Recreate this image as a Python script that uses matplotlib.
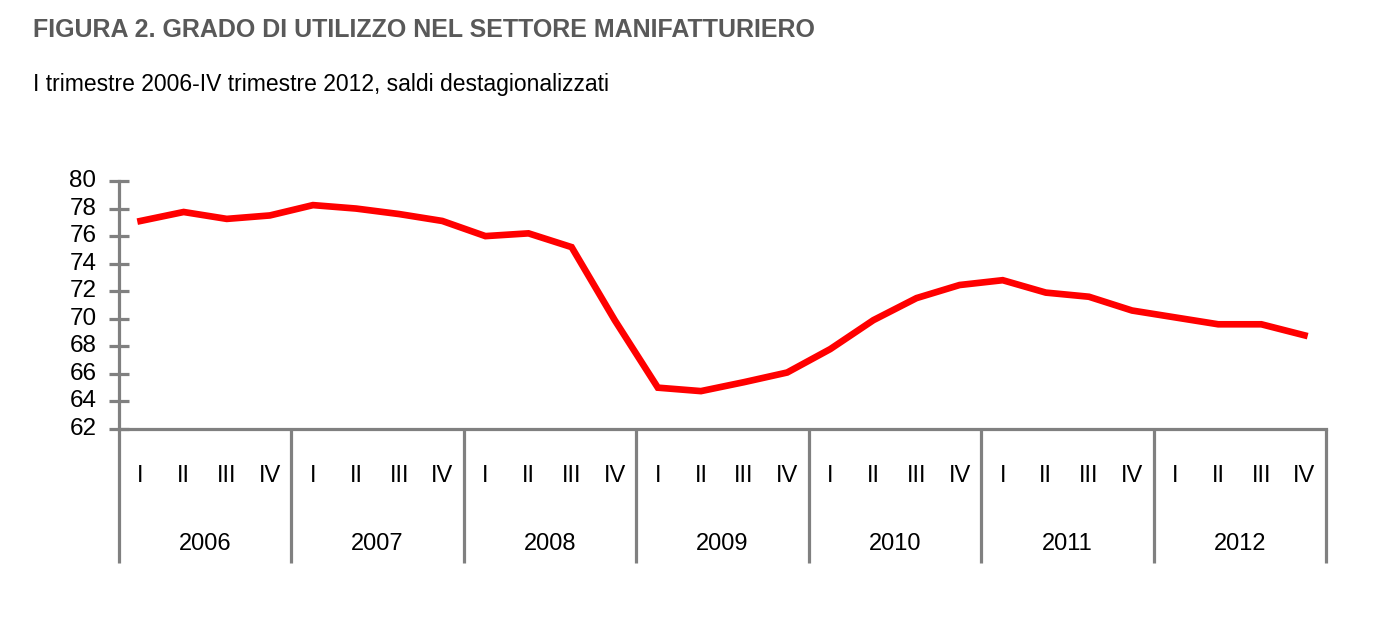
import matplotlib
matplotlib.use("Agg")
import matplotlib.pyplot as plt
from matplotlib import font_manager

# Chart data: capacity utilisation, manufacturing, quarterly 2006-2012
years = ["2006", "2007", "2008", "2009", "2010", "2011", "2012"]
quarters = ["I", "II", "III", "IV"]
values = [
    77.1, 77.75, 77.25, 77.5,   # 2006
    78.25, 78.0, 77.6, 77.1,    # 2007
    76.0, 76.2, 75.2, 69.9,     # 2008
    65.0, 64.75, 65.4, 66.1,    # 2009
    67.8, 69.9, 71.5, 72.45,    # 2010
    72.8, 71.9, 71.6, 70.6,     # 2011
    70.1, 69.6, 69.6, 68.8,     # 2012
]
y_ticks = list(range(62, 81, 2))

# Narrow Arial-like font if available
names = {f.name for f in font_manager.fontManager.ttflist}
narrow = "Liberation Sans Narrow" if "Liberation Sans Narrow" in names else "Liberation Sans"
plt.rcParams["font.family"] = [narrow, "DejaVu Sans"]

gray = "#808080"
W, H = 1398, 625
fig = plt.figure(figsize=(W / 100, H / 100), dpi=100)

# axes placed to match pixel layout of the reference
left, right, top, bottom = 119, 1326, 181, 429
ax = fig.add_axes([left / W, 1 - bottom / H, (right - left) / W, (bottom - top) / H])

x = list(range(len(values)))
ax.plot(x, values, color="#ff0000", lw=4.8, solid_joinstyle="miter", clip_on=False)

ax.set_xlim(-0.5, len(values) - 0.5)
ax.set_ylim(62, 80)
ax.set_yticks(y_ticks)
ax.set_xticks([])

for s in ["top", "right"]:
    ax.spines[s].set_visible(False)
for s in ["left", "bottom"]:
    ax.spines[s].set_color(gray)
    ax.spines[s].set_linewidth(2.3)

ax.tick_params(axis="y", direction="inout", length=14.4, width=2.3, color=gray,
               labelsize=17.5, pad=9)
for lab in ax.get_yticklabels():
    lab.set_verticalalignment("center")

# year dividers and category labels below the axis
trans = ax.get_xaxis_transform()
drop = -(563 - bottom) / (bottom - top)
for k in range(len(years) + 1):
    xd = k * 4 - 0.5
    ax.plot([xd, xd], [0, drop], transform=trans, color=gray, lw=2.3,
            clip_on=False, solid_capstyle="butt")

q_y = -(476 - bottom) / (bottom - top)
yr_y = -(544 - bottom) / (bottom - top)
for i in x:
    ax.text(i, q_y, quarters[i % 4], transform=trans, ha="center", va="center",
            fontsize=17)
for k, yr in enumerate(years):
    ax.text(k * 4 + 1.5, yr_y, yr, transform=trans, ha="center", va="center",
            fontsize=17)

fig.text(33 / W, 1 - 30 / H, "FIGURA 2. GRADO DI UTILIZZO NEL SETTORE MANIFATTURIERO",
         fontsize=18, fontweight="bold", color="#595959", va="center", ha="left")
fig.text(33 / W, 1 - 85 / H, "I trimestre 2006-IV trimestre 2012, saldi destagionalizzati",
         fontsize=16.5, color="black", va="center", ha="left")

fig.savefig("out.png", dpi=100)
